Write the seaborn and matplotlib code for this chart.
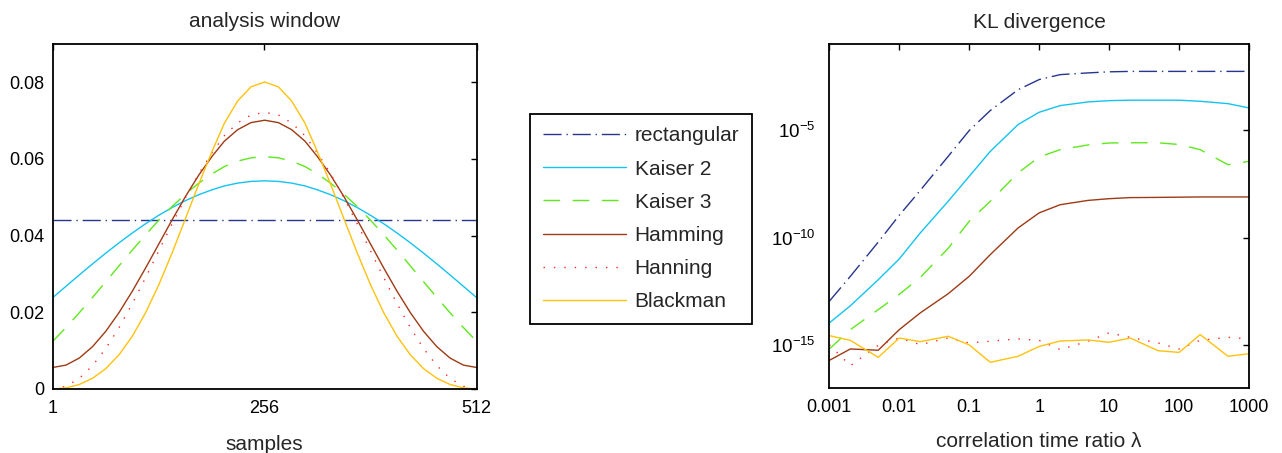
import numpy as np
import seaborn as sns
import matplotlib.pyplot as plt
from matplotlib.ticker import FixedLocator, NullLocator, FuncFormatter

# ---- data ----
window_names = ["rectangular", "Kaiser 2", "Kaiser 3", "Hamming", "Hanning", "Blackman"]

# left panel: sample index and window values (unit energy windows, N = 512)
samples = [1, 17, 33, 49, 65, 81, 97, 113, 129, 145, 161, 177, 193, 208, 224, 240, 256.5,
           273, 289, 305, 320, 336, 352, 368, 384, 400, 416, 432, 448, 464, 480, 496, 512]
rect_samples = [1, 512]
rect_win = [0.0442, 0.0442]
kaiser2_win = [0.02382, 0.02679, 0.02974, 0.03263, 0.03544, 0.03814, 0.04070, 0.04311, 0.04533,
               0.04734, 0.04913, 0.05068, 0.05196, 0.05298, 0.05371, 0.05415, 0.05430,
               0.05415, 0.05371, 0.05298, 0.05196, 0.05068, 0.04913, 0.04734, 0.04533,
               0.04311, 0.04070, 0.03814, 0.03544, 0.03263, 0.02974, 0.02679, 0.02382]
kaiser3_win = [0.01242, 0.01604, 0.01988, 0.02389, 0.02799, 0.03214, 0.03624, 0.04024, 0.04405,
               0.04761, 0.05084, 0.05370, 0.05611, 0.05804, 0.05945, 0.06030, 0.06060,
               0.06030, 0.05945, 0.05804, 0.05611, 0.05370, 0.05084, 0.04761, 0.04405,
               0.04024, 0.03624, 0.03214, 0.02799, 0.02389, 0.01988, 0.01604, 0.01242]
hamming_win = [0.00561, 0.00623, 0.00806, 0.01104, 0.01505, 0.01994, 0.02552, 0.03157, 0.03786,
               0.04415, 0.05020, 0.05577, 0.06066, 0.06467, 0.06765, 0.06949, 0.07011,
               0.06949, 0.06765, 0.06467, 0.06066, 0.05577, 0.05020, 0.04415, 0.03786,
               0.03157, 0.02552, 0.01994, 0.01505, 0.01104, 0.00806, 0.00623, 0.00561]
hanning_win = [0.0, 0.00069, 0.00275, 0.00608, 0.01057, 0.01604, 0.02228, 0.02905, 0.03609,
               0.04312, 0.04989, 0.05613, 0.06160, 0.06609, 0.06942, 0.07148, 0.07217,
               0.07148, 0.06942, 0.06609, 0.06160, 0.05613, 0.04989, 0.04312, 0.03609,
               0.02905, 0.02228, 0.01604, 0.01057, 0.00608, 0.00275, 0.00069, 0.0]
blackman_win = [0.0, 0.00028, 0.00117, 0.00279, 0.00532, 0.00894, 0.01378, 0.01990, 0.02723,
                0.03553, 0.04442, 0.05342, 0.06194, 0.06937, 0.07515, 0.07882, 0.08008,
                0.07882, 0.07515, 0.06937, 0.06194, 0.05342, 0.04442, 0.03553, 0.02723,
                0.01990, 0.01378, 0.00894, 0.00532, 0.00279, 0.00117, 0.00028, 0.0]

# right panel: correlation time ratio and log10(KL divergence)
lam = [0.001, 0.002, 0.005, 0.01, 0.02, 0.05, 0.1, 0.2, 0.5, 1, 2, 5, 10, 20, 50, 100, 200, 500, 1000]
rect_kl = [-12.95, -11.79, -10.2, -8.95, -7.79, -6.21, -5.01, -4.08, -3.11, -2.64,
           -2.41, -2.33, -2.28, -2.26, -2.26, -2.26, -2.26, -2.26, -2.26]
kaiser2_kl = [-13.96, -13.16, -11.95, -10.98, -9.77, -8.30, -7.14, -5.98, -4.73, -4.16,
              -3.85, -3.68, -3.62, -3.60, -3.60, -3.60, -3.65, -3.76, -3.96]
kaiser3_kl = [-15.17, -14.27, -13.34, -12.63, -11.84, -10.49, -9.23, -8.30, -6.98, -6.24,
              -5.90, -5.68, -5.59, -5.58, -5.58, -5.66, -5.90, -6.60, -6.44]
hamming_kl = [-15.70, -15.17, -15.23, -14.27, -13.49, -12.60, -11.79, -10.78, -9.54, -8.84,
              -8.46, -8.26, -8.18, -8.13, -8.12, -8.11, -8.10, -8.10, -8.10]
hanning_kl = [-14.97, -15.95, -15.00, -14.66, -14.97, -14.66, -14.89, -14.81, -14.70, -14.77,
              -15.20, -14.81, -14.42, -14.63, -14.89, -15.17, -14.77, -14.63, -14.70]
blackman_kl = [-14.55, -14.77, -15.56, -14.66, -14.83, -14.58, -14.98, -15.79, -15.51, -15.05,
               -14.80, -14.75, -14.86, -14.66, -15.25, -15.33, -14.50, -15.51, -15.39]

# ---- styles ----
COLORS = ["#27368C", "#14C3F0", "#5FE81C", "#9E3A14", "#FF2525", "#FFC20E"]
STYLES = [(0, (13, 3.5, 1, 3.5)), "-", (0, (12, 9)), "-", (0, (1, 6.5)), "-"]

sns.set_theme(style="white")
plt.rcParams["font.family"] = ["Liberation Sans", "DejaVu Sans"]
plt.rcParams["mathtext.fontset"] = "custom"
plt.rcParams["mathtext.rm"] = "Liberation Sans"
plt.rcParams["mathtext.default"] = "regular"
plt.rcParams["axes.unicode_minus"] = True

fig = plt.figure(figsize=(12.82, 4.53), dpi=100)
ax1 = fig.add_axes([0.0411, 0.1413, 0.3307, 0.7616])
ax2 = fig.add_axes([0.6469, 0.1428, 0.3274, 0.7594])

# left: analysis windows
left_x = [rect_samples, samples, samples, samples, samples, samples]
left_y = [rect_win, kaiser2_win, kaiser3_win, hamming_win, hanning_win, blackman_win]
for xs, ys, name, col, ls in zip(left_x, left_y, window_names, COLORS, STYLES):
    sns.lineplot(x=xs, y=ys, ax=ax1, color=col, linestyle=ls, linewidth=1.0, label=name)

# right: KL divergence
right_y = [rect_kl, kaiser2_kl, kaiser3_kl, hamming_kl, hanning_kl, blackman_kl]
for ys, col, ls in zip(right_y, COLORS, STYLES):
    sns.lineplot(x=lam, y=np.power(10.0, ys), ax=ax2, color=col, linestyle=ls, linewidth=1.0)

handles, labels = ax1.get_legend_handles_labels()
if ax1.get_legend() is not None:
    ax1.get_legend().remove()

# axes styling
ax1.set_xlim(1, 512)
ax1.set_ylim(0, 0.09)
ax1.set_xticks([1, 256, 512])
ax1.set_xticklabels(["1", "256", "512"])
ax1.set_yticks([0, 0.02, 0.04, 0.06, 0.08])
ax1.set_yticklabels(["0", "0.02", "0.04", "0.06", "0.08"])
ax1.set_title("analysis window", fontsize=15, pad=12)
ax1.set_xlabel("samples", fontsize=15, labelpad=13)
ax1.set_ylabel("")

ax2.set_xscale("log")
ax2.set_yscale("log")
ax2.set_xlim(1e-3, 1e3)
ax2.set_ylim(1e-17, 1e-1)
ax2.xaxis.set_major_locator(FixedLocator([1e-3, 1e-2, 1e-1, 1, 10, 100, 1000]))
ax2.xaxis.set_major_formatter(FuncFormatter(lambda v, p: "%g" % v))
ax2.yaxis.set_major_locator(FixedLocator([1e-15, 1e-10, 1e-5]))
ax2.yaxis.set_major_formatter(FuncFormatter(lambda v, p: r"$10^{%d}$" % round(np.log10(v))))
ax2.xaxis.set_minor_locator(NullLocator())
ax2.yaxis.set_minor_locator(NullLocator())
ax2.set_title("KL divergence", fontsize=15, pad=12)
ax2.set_xlabel("correlation time ratio λ", fontsize=15, labelpad=11)
ax2.set_ylabel("")

for ax in (ax1, ax2):
    ax.tick_params(direction="in", length=4, width=1, top=True, right=True,
                   labelsize=13, color="black", labelcolor="black", pad=6)
    ax.tick_params(axis="x", pad=8)
    for sp in ax.spines.values():
        sp.set_color("black")
        sp.set_linewidth(1.3)
ax2.tick_params(axis="y", labelsize=13.5, pad=10)

leg = fig.legend(handles, labels, loc="center", bbox_to_anchor=(0.4999, 0.517),
                 fontsize=15, handlelength=4.0, handletextpad=0.42, borderpad=0.6,
                 labelspacing=0.68, frameon=True, fancybox=False, framealpha=1)
leg.get_frame().set_edgecolor("black")
leg.get_frame().set_linewidth(1.3)

fig.savefig("out.png", dpi=100)
